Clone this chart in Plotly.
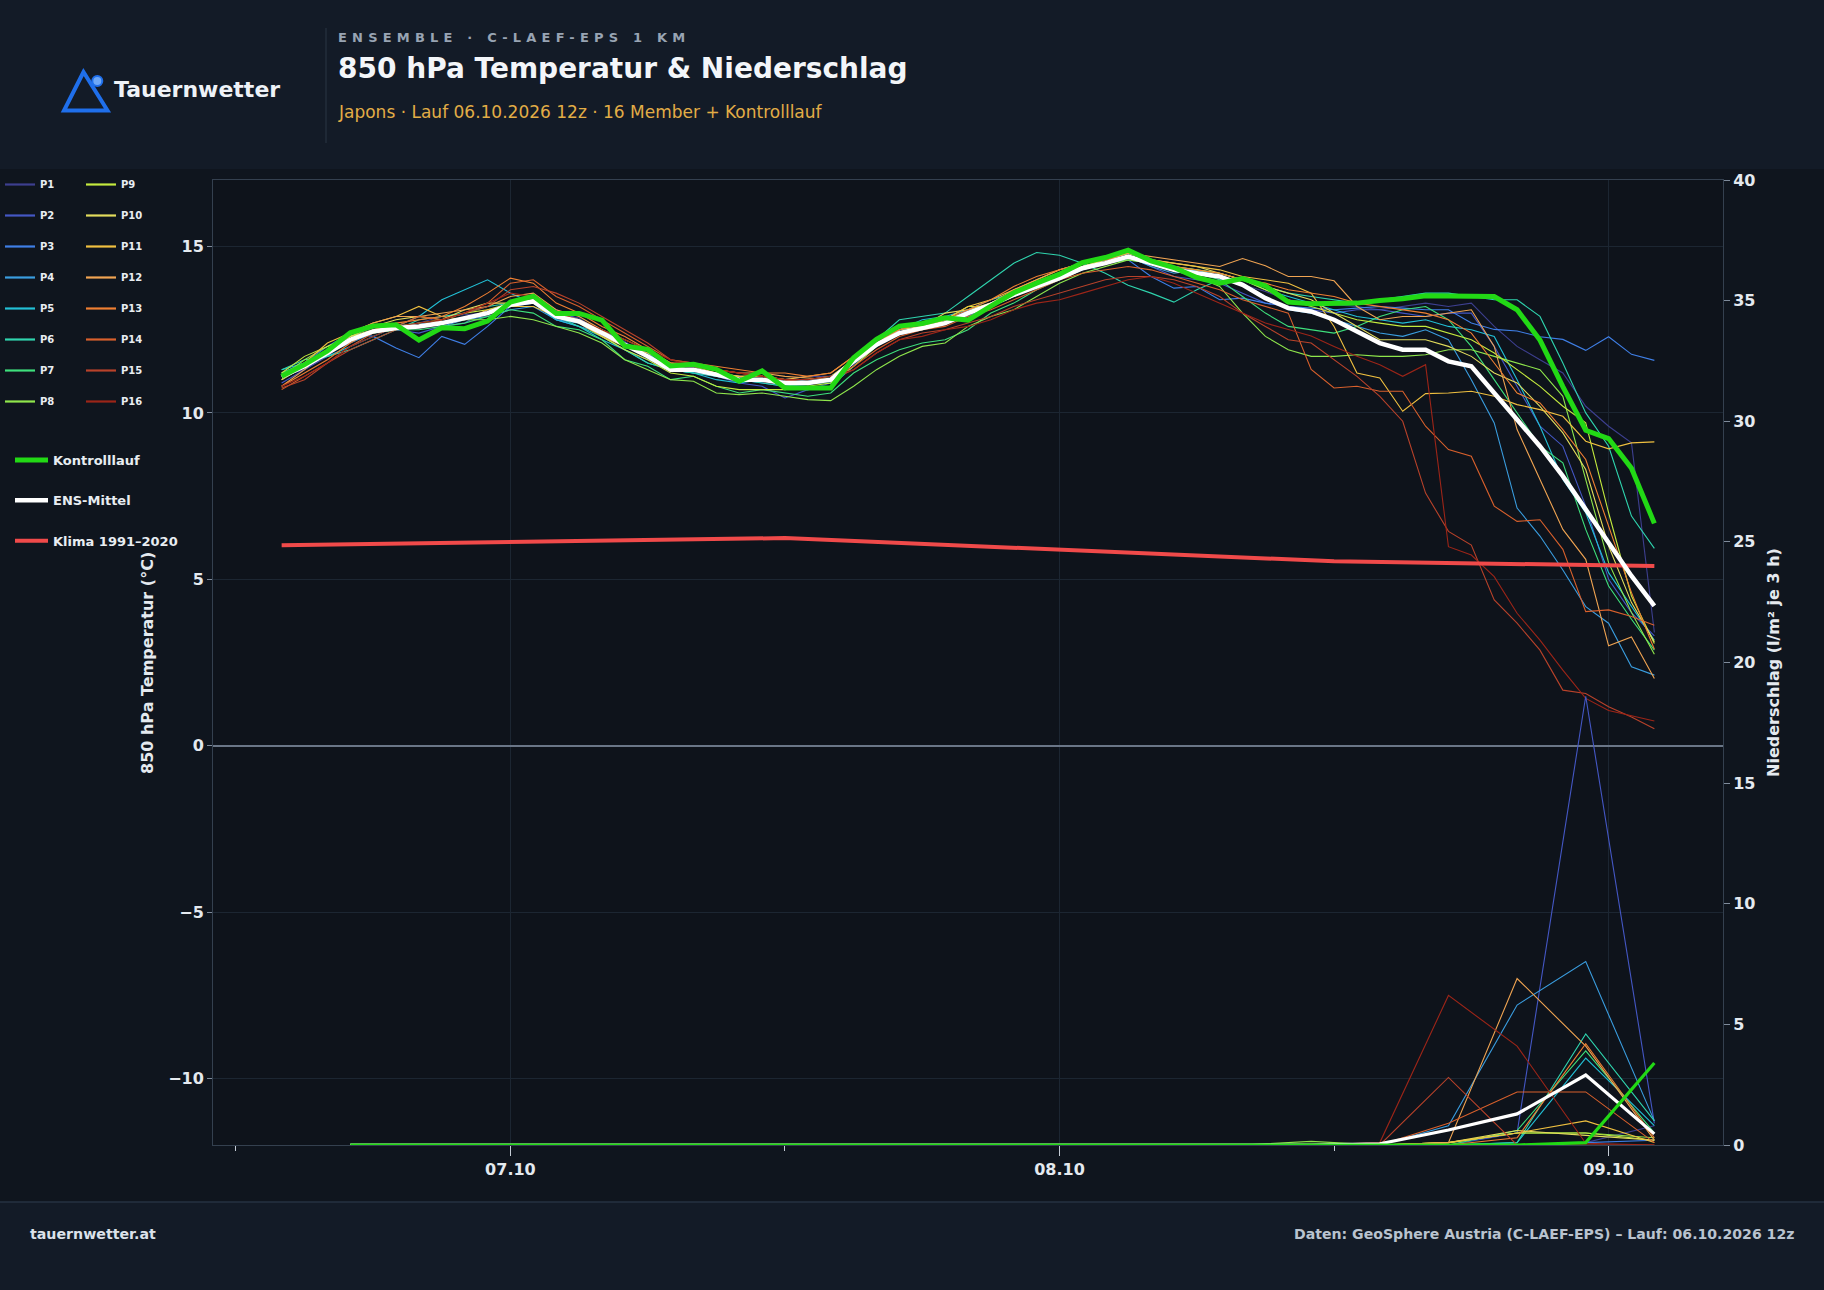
import pandas as pd
import plotly.graph_objects as go

# ---------------- data ----------------
temp_times = pd.date_range("2026-10-06 14:00", periods=61, freq="h")
precip_times = pd.date_range("2026-10-06 17:00", periods=20, freq="3h")
klima_times = pd.to_datetime(["2026-10-06 14:00", "2026-10-07 12:00", "2026-10-08 12:00", "2026-10-09 02:00"])
klima_values = [6.02, 6.24, 5.54, 5.40]

member_names = ["P1", "P2", "P3", "P4", "P5", "P6", "P7", "P8",
                "P9", "P10", "P11", "P12", "P13", "P14", "P15", "P16"]
member_colors = ["#3d3f8f", "#4457c4", "#3f7fe6", "#3a9ddf", "#22c0d6", "#2fd4ae", "#3ee07c", "#8fe64c",
                 "#c4ea3e", "#e2dc5c", "#f0c040", "#f0a452", "#ef7f32", "#d8602c", "#b8422a", "#9c2518"]

P1_T = [11.1, 11.3, 11.8, 12.3, 12.55, 12.55, 12.7, 12.9, 12.95, 13.0, 13.35,
        13.55, 13.0, 12.85, 12.4, 12.15, 11.7, 11.4, 11.4, 11.15, 11.1, 11.0,
        11.0, 11.1, 11.1, 11.45, 12.05, 12.5, 12.65, 12.7, 13.1, 13.25, 13.65,
        13.9, 14.15, 14.35, 14.6, 14.9, 14.6, 14.3, 14.3, 14.0, 13.85, 13.65,
        13.4, 13.3, 13.25, 13.2, 13.1, 13.2, 13.3, 13.2, 13.3, 12.6, 12.0, 11.6, 11.2, 10.2, 9.6, 9.1, 3.4]
P2_T = [10.9, 11.3, 11.7, 12.3, 12.6, 12.5, 12.4, 12.6, 12.7, 13.1, 13.2,
        13.5, 13.1, 12.8, 12.3, 11.9, 11.6, 11.4, 11.2, 11.1, 10.9, 10.8,
        10.45, 10.7, 10.9, 11.5, 12.0, 12.5, 12.6, 12.8, 13.0, 13.3, 13.6,
        13.9, 14.2, 14.4, 14.6, 14.7, 14.4, 14.1, 14.0, 13.9, 13.6, 13.3,
        13.2, 13.1, 13.0, 13.1, 13.1, 13.0, 12.9, 13.0, 13.0, 12.0, 10.8, 9.6, 9.0, 7.2, 5.0, 4.0, 3.3]
P3_T = [11.2, 11.5, 12.0, 12.4, 12.3, 11.95, 11.66, 12.3, 12.06, 12.6, 13.2,
        13.3, 12.8, 12.6, 12.4, 12.0, 11.7, 11.4, 11.3, 11.1, 11.0, 10.9,
        10.8, 10.85, 11.0, 11.6, 12.1, 12.5, 12.7, 12.8, 13.05, 13.3, 13.6,
        13.9, 14.1, 14.3, 14.5, 14.6, 14.1, 13.75, 13.8, 13.4, 13.45, 13.3,
        13.2, 13.15, 13.1, 13.15, 13.2, 13.15, 13.1, 13.1, 12.7, 12.51, 12.46, 12.29, 12.21, 11.88, 12.29, 11.76, 11.58]
P4_T = [11.0, 11.4, 11.8, 12.1, 12.4, 12.6, 12.7, 12.6, 12.8, 12.9, 13.1,
        13.2, 12.8, 12.7, 12.5, 12.1, 11.8, 11.3, 11.2, 11.2, 11.1, 11.0,
        10.9, 11.0, 10.95, 11.5, 12.1, 12.35, 12.5, 12.7, 12.9, 13.2, 13.5,
        13.8, 14.0, 14.3, 14.5, 14.7, 14.4, 14.2, 14.3, 14.1, 13.9, 13.5,
        13.1, 13.0, 12.8, 12.6, 12.4, 12.3, 12.5, 12.2, 11.0, 9.7, 7.14, 6.3, 5.28, 4.18, 3.68, 2.37, 2.12]
P5_T = [11.3, 11.5, 11.7, 12.0, 12.3, 12.6, 12.9, 13.4, 13.7, 14.0, 13.6,
        13.3, 12.8, 12.6, 12.2, 11.9, 11.5, 11.3, 11.2, 11.0, 10.9, 11.0,
        10.8, 10.7, 10.8, 11.4, 12.0, 12.5, 12.8, 12.9, 13.1, 13.4, 13.6,
        13.9, 14.2, 14.4, 14.6, 14.8, 14.6, 14.4, 14.3, 14.2, 14.0, 13.7,
        13.5, 13.3, 13.1, 12.9, 12.8, 12.7, 12.8, 12.6, 12.5, 12.3, 11.0, 9.6, 8.0, 7.0, 5.2, 4.2, 3.17]
P6_T = [11.3, 11.6, 11.7, 11.9, 12.2, 12.5, 12.8, 12.9, 13.0, 13.2, 13.3,
        13.4, 12.9, 12.6, 12.3, 11.9, 11.5, 11.3, 11.2, 11.1, 11.0, 10.9,
        10.8, 10.9, 10.9, 11.5, 12.2, 12.8, 12.9, 13.0, 13.5, 14.0, 14.5,
        14.82, 14.74, 14.5, 14.2, 13.84, 13.6, 13.33, 13.7, 14.0, 14.0, 13.8,
        13.6, 13.5, 13.4, 13.3, 13.4, 13.5, 13.6, 13.6, 13.5, 13.4, 13.4, 12.9, 11.5, 10.0, 9.0, 6.9, 5.93]
P7_T = [11.2, 11.5, 11.9, 12.2, 12.4, 12.5, 12.5, 12.6, 12.7, 12.9, 13.1,
        13.0, 12.6, 12.5, 12.2, 11.6, 11.4, 11.0, 11.1, 10.8, 10.6, 10.7,
        10.6, 10.5, 10.6, 11.2, 11.6, 11.9, 12.1, 12.2, 12.5, 13.0, 13.3,
        13.7, 14.0, 14.3, 14.5, 14.6, 14.5, 14.3, 14.2, 14.0, 13.5, 13.0,
        12.6, 12.5, 12.4, 12.6, 12.9, 13.1, 13.2, 12.8, 12.0, 11.0, 10.0, 9.0, 8.5, 6.5, 4.8, 3.8, 2.87]
P8_T = [11.1, 11.6, 12.0, 12.3, 12.4, 12.5, 12.6, 12.7, 12.8, 12.8, 12.9,
        12.8, 12.6, 12.4, 12.1, 11.6, 11.3, 11.0, 10.95, 10.6, 10.55, 10.6,
        10.5, 10.4, 10.37, 10.8, 11.3, 11.7, 12.0, 12.1, 12.6, 12.9, 13.1,
        13.5, 13.9, 14.2, 14.4, 14.6, 14.5, 14.3, 14.1, 13.8, 13.0, 12.3,
        11.9, 11.7, 11.7, 11.75, 11.7, 11.7, 11.75, 11.9, 11.9, 11.7, 11.5, 11.3, 10.5, 8.0, 5.5, 4.0, 2.75]
P9_T = [11.2, 11.7, 12.0, 12.3, 12.5, 12.6, 12.7, 12.8, 13.0, 13.1, 13.3,
        13.3, 12.9, 12.7, 12.3, 11.9, 11.6, 11.2, 11.1, 10.8, 10.7, 10.7,
        10.7, 10.8, 10.9, 11.4, 12.0, 12.4, 12.5, 12.8, 13.2, 13.2, 13.5,
        13.8, 14.1, 14.4, 14.6, 14.8, 14.6, 14.4, 14.3, 14.2, 14.0, 13.7,
        13.4, 13.2, 13.0, 12.8, 12.7, 12.6, 12.6, 12.4, 12.2, 11.8, 11.3, 10.8, 10.2, 9.7, 7.0, 4.5, 3.07]
P10_T = [11.0, 11.4, 11.9, 12.3, 12.6, 12.8, 12.9, 12.8, 13.1, 13.3, 13.3,
         13.4, 13.0, 12.8, 12.5, 12.0, 11.7, 11.4, 11.3, 11.2, 11.1, 11.1,
         11.0, 11.0, 11.1, 11.6, 12.2, 12.5, 12.6, 13.0, 13.1, 13.3, 13.6,
         13.9, 14.2, 14.4, 14.6, 14.8, 14.6, 14.5, 14.4, 14.2, 14.0, 13.8,
         13.6, 13.4, 13.0, 12.6, 12.2, 12.2, 12.2, 12.0, 11.7, 11.2, 10.9, 10.2, 9.4, 8.3, 6.0, 4.3, 3.12]
P11_T = [11.0, 11.5, 12.1, 12.4, 12.7, 12.9, 13.2, 12.9, 12.8, 13.1, 13.2,
         13.2, 12.9, 12.7, 12.3, 12.0, 11.8, 11.5, 11.4, 11.2, 11.1, 11.1,
         11.0, 11.1, 11.2, 11.7, 12.2, 12.4, 12.6, 12.8, 13.2, 13.4, 13.7,
         14.0, 14.3, 14.5, 14.7, 14.9, 14.6, 14.5, 14.4, 14.3, 14.1, 14.0,
         13.9, 13.6, 12.6, 11.2, 11.05, 10.05, 10.58, 10.6, 10.65, 10.5, 10.25, 10.1, 9.9, 9.15, 8.92, 9.1, 9.13]
P12_T = [10.8, 11.3, 11.9, 12.4, 12.7, 12.9, 12.9, 13.0, 13.1, 13.2, 13.5,
         13.6, 13.1, 12.9, 12.5, 12.2, 11.9, 11.5, 11.4, 11.3, 11.2, 11.2,
         11.1, 11.05, 11.0, 11.5, 12.1, 12.5, 12.7, 12.8, 13.0, 13.3, 13.7,
         14.0, 14.3, 14.5, 14.6, 14.8, 14.7, 14.6, 14.5, 14.4, 14.64, 14.42,
         14.1, 14.1, 13.97, 13.2, 12.8, 12.9, 12.9, 13.0, 13.1, 12.0, 9.5, 8.0, 6.5, 5.6, 3.0, 3.27, 2.02]
P13_T = [10.8, 11.2, 11.6, 12.1, 12.5, 12.7, 12.8, 12.9, 13.2, 13.6, 14.05,
         13.9, 13.3, 13.0, 12.6, 12.3, 11.9, 11.5, 11.5, 11.4, 11.3, 11.2,
         11.2, 11.1, 11.2, 11.7, 12.2, 12.5, 12.7, 12.8, 13.1, 13.4, 13.8,
         14.1, 14.3, 14.5, 14.6, 14.7, 14.5, 14.4, 14.3, 14.2, 14.0, 13.9,
         13.7, 13.6, 13.5, 13.3, 13.2, 13.1, 13.0, 12.8, 12.4, 11.5, 10.6, 10.3, 9.5, 8.6, 6.6, 4.6, 2.9]
P14_T = [10.7, 11.1, 11.5, 12.0, 12.4, 12.6, 12.9, 12.8, 13.0, 13.3, 13.9,
         14.0, 13.5, 13.2, 12.8, 12.4, 12.0, 11.6, 11.5, 11.3, 11.2, 11.1,
         11.0, 10.9, 11.0, 11.4, 11.9, 12.3, 12.5, 12.6, 12.9, 13.1, 13.4,
         13.7, 14.0, 14.2, 14.3, 14.4, 14.3, 14.1, 13.9, 13.7, 13.4, 13.2,
         13.0, 11.31, 10.75, 10.8, 10.65, 10.65, 9.6, 8.9, 8.7, 7.2, 6.74, 6.79, 5.9, 4.03, 4.08, 3.88, 3.62]
P15_T = [10.75, 11.0, 11.5, 11.9, 12.2, 12.5, 12.6, 12.8, 13.0, 13.2, 13.7,
         13.8, 13.6, 13.3, 12.9, 12.5, 12.1, 11.6, 11.5, 11.3, 11.2, 11.1,
         11.0, 10.9, 11.0, 11.3, 11.8, 12.2, 12.4, 12.5, 12.7, 12.9, 13.2,
         13.4, 13.6, 13.8, 14.0, 14.1, 14.1, 14.0, 13.8, 13.5, 13.0, 12.6,
         12.2, 12.1, 11.61, 11.1, 10.5, 9.75, 7.59, 6.44, 6.03, 4.38, 3.68, 2.87, 1.67, 1.57, 1.17, 0.86, 0.51]
P16_T = [10.8, 11.1, 11.5, 12.0, 12.3, 12.6, 12.7, 12.8, 13.0, 13.3, 13.6,
         13.5, 13.0, 12.8, 12.5, 12.2, 11.9, 11.6, 11.4, 11.3, 11.2, 11.1,
         11.0, 11.0, 11.1, 11.3, 11.8, 12.2, 12.3, 12.5, 12.6, 12.8, 13.1,
         13.3, 13.4, 13.6, 13.8, 14.0, 14.1, 13.9, 13.6, 13.3, 13.0, 12.7,
         12.51, 12.31, 12.0, 11.7, 11.45, 11.1, 11.45, 5.98, 5.73, 5.08, 3.98, 3.17, 2.27, 1.42, 1.06, 0.91, 0.74]

control_T = [11.10, 11.45, 11.86, 12.41, 12.61, 12.65, 12.19, 12.56, 12.53, 12.76, 13.33,
             13.51, 12.99, 12.99, 12.79, 12.01, 11.91, 11.41, 11.46, 11.31, 10.95, 11.26,
             10.75, 10.75, 10.75, 11.66, 12.21, 12.61, 12.69, 12.86, 12.79, 13.21, 13.61,
             13.90, 14.17, 14.52, 14.67, 14.89, 14.57, 14.37, 14.07, 13.90, 14.04, 13.82,
             13.33, 13.28, 13.28, 13.30, 13.38, 13.43, 13.52, 13.52, 13.50, 13.50, 13.10, 12.19, 10.79, 9.48, 9.23, 8.34, 6.68]
mean_T = [11.1, 11.4, 11.8, 12.2, 12.45, 12.55, 12.6, 12.7, 12.85, 13.0, 13.25,
          13.35, 12.9, 12.75, 12.4, 12.05, 11.7, 11.3, 11.3, 11.15, 11.0, 11.0,
          10.9, 10.9, 11.0, 11.55, 12.05, 12.4, 12.55, 12.7, 13.0, 13.25, 13.55,
          13.8, 14.05, 14.35, 14.5, 14.7, 14.5, 14.3, 14.2, 14.1, 13.85, 13.45,
          13.15, 13.05, 12.8, 12.45, 12.1, 11.9, 11.9, 11.55, 11.4, 10.6, 9.8, 9.0, 8.1, 7.1, 6.1, 5.1, 4.2]

P1_R = [0, 0, 0, 0, 0, 0, 0, 0, 0, 0, 0, 0, 0, 0, 0, 0, 0, 0, 0.1, 0.8]
P2_R = [0, 0, 0, 0, 0, 0, 0, 0, 0, 0, 0, 0, 0, 0, 0, 0, 0, 0.5, 18.6, 0.9]
P3_R = [0, 0, 0, 0, 0, 0, 0, 0, 0, 0, 0, 0, 0, 0, 0, 0, 0, 0, 0.1, 0.2]
P4_R = [0, 0, 0, 0, 0, 0, 0, 0, 0, 0, 0, 0, 0, 0, 0, 0, 0.8, 5.8, 7.6, 1.0]
P5_R = [0, 0, 0, 0, 0, 0, 0, 0, 0, 0, 0, 0, 0, 0, 0, 0, 0, 0.1, 3.6, 0.8]
P6_R = [0, 0, 0, 0, 0, 0, 0, 0, 0, 0, 0, 0, 0, 0, 0, 0, 0, 0.1, 4.6, 1.0]
P7_R = [0, 0, 0, 0, 0, 0, 0, 0, 0, 0, 0, 0, 0, 0, 0, 0, 0, 0.6, 3.9, 0.5]
P8_R = [0, 0, 0, 0, 0, 0, 0, 0, 0, 0, 0, 0, 0, 0, 0.15, 0, 0.1, 0.5, 0.5, 0.3]
P9_R = [0, 0, 0, 0, 0, 0, 0, 0, 0, 0, 0, 0, 0, 0, 0, 0, 0.1, 0.5, 0.5, 0.2]
P10_R = [0, 0, 0, 0, 0, 0, 0, 0, 0, 0, 0, 0, 0, 0, 0, 0, 0.1, 0.6, 0.4, 0.2]
P11_R = [0, 0, 0, 0, 0, 0, 0, 0, 0, 0, 0, 0, 0, 0, 0, 0, 0.1, 0.5, 1.0, 0.1]
P12_R = [0, 0, 0, 0, 0, 0, 0, 0, 0, 0, 0, 0, 0, 0, 0, 0, 0.1, 6.9, 4.1, 0.2]
P13_R = [0, 0, 0, 0, 0, 0, 0, 0, 0, 0, 0, 0, 0, 0, 0, 0, 0, 0.3, 4.2, 0.3]
P14_R = [0, 0, 0, 0, 0, 0, 0, 0, 0, 0, 0, 0, 0, 0, 0, 0, 0.9, 2.2, 2.2, 0.1]
P15_R = [0, 0, 0, 0, 0, 0, 0, 0, 0, 0, 0, 0, 0, 0, 0, 0, 2.8, 0, 0, 0]
P16_R = [0, 0, 0, 0, 0, 0, 0, 0, 0, 0, 0, 0, 0, 0, 0, 0.1, 6.2, 4.1, 0.07, 0]
control_R = [0, 0, 0, 0, 0, 0, 0, 0, 0, 0, 0, 0, 0, 0, 0, 0, 0, 0, 0.1, 3.4]
mean_R = [0, 0, 0, 0, 0, 0, 0, 0, 0, 0, 0, 0, 0, 0, 0, 0.05, 0.62, 1.29, 2.9, 0.46]

member_T = [P1_T, P2_T, P3_T, P4_T, P5_T, P6_T, P7_T, P8_T,
            P9_T, P10_T, P11_T, P12_T, P13_T, P14_T, P15_T, P16_T]
member_R = [P1_R, P2_R, P3_R, P4_R, P5_R, P6_R, P7_R, P8_R,
            P9_R, P10_R, P11_R, P12_R, P13_R, P14_R, P15_R, P16_R]

# ---------------- layout helpers ----------------
W, H = 1824, 1290
ML, MR, MT, MB = 213, 101, 180, 145
PW, PH = W - ML - MR, H - MT - MB
FONT = "DejaVu Sans"


def fx(px):
    return (px - ML) / PW


def fy(py):
    return (H - MB - py) / PH


fig = go.Figure()

# legend proxies (P1..P16)
for i, (name, col) in enumerate(zip(member_names, member_colors)):
    fig.add_trace(go.Scatter(x=[None], y=[None], mode="lines", name=name,
                             line=dict(color=col, width=2.2),
                             legend="legend" if i < 8 else "legend2",
                             legendgroup=name, showlegend=True, hoverinfo="skip"))

# member temperature lines
for name, col, vals in zip(member_names, member_colors, member_T):
    fig.add_trace(go.Scatter(x=temp_times, y=vals, mode="lines", name=name,
                             line=dict(color=col, width=1.1),
                             legendgroup=name, showlegend=False, yaxis="y"))

# member precipitation lines
for name, col, vals in zip(member_names, member_colors, member_R):
    fig.add_trace(go.Scatter(x=precip_times, y=vals, mode="lines", name=name,
                             line=dict(color=col, width=1.1),
                             legendgroup=name, showlegend=False, yaxis="y2"))

# climatology
fig.add_trace(go.Scatter(x=klima_times, y=klima_values, mode="lines", name="Klima 1991–2020",
                         line=dict(color="#f04a4a", width=4), legend="legend3",
                         legendgroup="klima", legendrank=3, yaxis="y"))
# ensemble mean
fig.add_trace(go.Scatter(x=temp_times, y=mean_T, mode="lines", name="ENS-Mittel",
                         line=dict(color="#ffffff", width=4.5), legend="legend3",
                         legendgroup="mean", legendrank=2, yaxis="y"))
fig.add_trace(go.Scatter(x=precip_times, y=mean_R, mode="lines", name="ENS-Mittel",
                         line=dict(color="#ffffff", width=3.2), legendgroup="mean",
                         showlegend=False, yaxis="y2"))
# control run
fig.add_trace(go.Scatter(x=temp_times, y=control_T, mode="lines", name="Kontrolllauf",
                         line=dict(color="#22d915", width=5), legend="legend3",
                         legendgroup="ctrl", legendrank=1, yaxis="y"))
fig.add_trace(go.Scatter(x=precip_times, y=control_R, mode="lines", name="Kontrolllauf",
                         line=dict(color="#22d915", width=3.2), legendgroup="ctrl",
                         showlegend=False, yaxis="y2"))

# ---------------- shapes (header / footer / logo) ----------------
shapes = [
    dict(type="rect", xref="paper", yref="paper", x0=fx(0), x1=fx(W), y0=fy(169), y1=fy(0),
         fillcolor="#131b27", line=dict(width=0), layer="below"),
    dict(type="rect", xref="paper", yref="paper", x0=fx(0), x1=fx(W), y0=fy(H), y1=fy(1202),
         fillcolor="#131b27", line=dict(width=0), layer="below"),
    dict(type="line", xref="paper", yref="paper", x0=fx(0), x1=fx(W), y0=fy(1202), y1=fy(1202),
         line=dict(color="#263242", width=1.5)),
    dict(type="line", xref="paper", yref="paper", x0=fx(326), x1=fx(326), y0=fy(28), y1=fy(143),
         line=dict(color="#2b3645", width=1)),
    dict(type="path", xref="paper", yref="paper",
         path="M{:.5f},{:.5f} L{:.5f},{:.5f} L{:.5f},{:.5f} Z".format(
             fx(83.5), fy(72), fx(64), fy(110.5), fx(107.5), fy(110.5)),
         line=dict(color="#1f6feb", width=4), fillcolor="rgba(0,0,0,0)"),
    dict(type="circle", xref="paper", yref="paper", x0=fx(92.3), x1=fx(102.3), y0=fy(86), y1=fy(76),
         fillcolor="#6ea8f7", line=dict(color="#1f6feb", width=2)),
]

# ---------------- annotations ----------------
annotations = [
    dict(text="Tauernwetter", x=fx(112), y=fy(90), xanchor="left", yanchor="middle",
         font=dict(family=FONT, size=22, color="#eef2f7", weight="bold")),
    dict(text='<span style="letter-spacing:5.2px">ENSEMBLE · C-LAEF-EPS 1 KM</span>',
         x=fx(336), y=fy(37), xanchor="left", yanchor="middle",
         font=dict(family=FONT, size=13, color="#98a4b3", weight="bold")),
    dict(text="850 hPa Temperatur &amp; Niederschlag", x=fx(336), y=fy(69), xanchor="left", yanchor="middle",
         font=dict(family=FONT, size=28, color="#f3f6f9", weight="bold")),
    dict(text="Japons · Lauf 06.10.2026 12z · 16 Member + Kontrolllauf", x=fx(336), y=fy(112),
         xanchor="left", yanchor="middle",
         font=dict(family=FONT, size=17, color="#e2ad46")),
    dict(text="tauernwetter.at", x=fx(28), y=fy(1234), xanchor="left", yanchor="middle",
         font=dict(family=FONT, size=14.2, color="#dce2ea", weight="bold")),
    dict(text="Daten: GeoSphere Austria (C-LAEF-EPS) – Lauf: 06.10.2026 12z", x=fx(1796), y=fy(1234),
         xanchor="right", yanchor="middle",
         font=dict(family=FONT, size=14.1, color="#b9c3cf", weight="bold")),
    # left axis title (placed explicitly)
    dict(text="850 hPa Temperatur (°C)", x=fx(147), y=fy(663), xanchor="center", yanchor="middle",
         textangle=-90, font=dict(family=FONT, size=16, color="#e4e9ef", weight="bold")),
]
for a in annotations:
    a.update(xref="paper", yref="paper", showarrow=False)

axis_line = "#34404f"
grid = "#1c2632"
tick_font = dict(family=FONT, size=16, color="#e4e9ef", weight="bold")
legend_common = dict(bgcolor="rgba(0,0,0,0)", borderwidth=0, xref="container", yref="container",
                     xanchor="left", yanchor="top", orientation="v")

fig.update_layout(
    width=W, height=H,
    margin=dict(l=ML, r=MR, t=MT, b=MB, pad=0, autoexpand=False),
    paper_bgcolor="#0f151e",
    plot_bgcolor="#0e131b",
    font=dict(family=FONT, color="#e4e9ef"),
    hovermode=False,
    shapes=shapes,
    annotations=annotations,
    xaxis=dict(
        type="date", range=["2026-10-06 11:00", "2026-10-09 05:00"],
        tick0="2026-10-07", dtick=86400000, tickformat="%d.%m",
        ticks="outside", ticklen=10, tickwidth=1, tickcolor="#c4ccd6",
        showgrid=True, gridcolor=grid, gridwidth=1,
        showline=True, linecolor=axis_line, linewidth=1, mirror=True,
        zeroline=False, tickfont=tick_font,
        minor=dict(dtick=43200000, tick0="2026-10-06 12:00", ticks="outside", ticklen=5,
                   tickcolor="#c4ccd6", showgrid=False),
    ),
    yaxis=dict(
        range=[-12, 17], tick0=0, dtick=5,
        ticks="outside", ticklen=5, tickcolor="#7f8b9b",
        showgrid=True, gridcolor=grid, gridwidth=1,
        zeroline=True, zerolinecolor="#6a7687", zerolinewidth=2,
        showline=True, linecolor=axis_line, linewidth=1, mirror=True,
        tickfont=tick_font,
    ),
    yaxis2=dict(
        overlaying="y", side="right", range=[0, 40], tick0=0, dtick=5,
        ticks="outside", ticklen=6, tickcolor="#7f8b9b",
        showgrid=False, zeroline=False,
        showline=True, linecolor=axis_line, linewidth=1,
        tickfont=tick_font,
        title=dict(text="Niederschlag (l/m² je 3 h)", standoff=13,
                   font=dict(family=FONT, size=16, color="#e4e9ef", weight="bold")),
    ),
    legend=dict(x=0.0, y=1 - 170 / H, tracegroupgap=12,
                font=dict(family=FONT, size=10, color="#e8edf2", weight="bold"), **legend_common),
    legend2=dict(x=81 / W, y=1 - 170 / H, tracegroupgap=12,
                 font=dict(family=FONT, size=10, color="#e8edf2", weight="bold"), **legend_common),
    legend3=dict(x=10 / W, y=1 - 445 / H, tracegroupgap=20.5, itemwidth=33,
                 font=dict(family=FONT, size=13, color="#e8edf2", weight="bold"), **legend_common),
)

fig.write_html("out.html")
